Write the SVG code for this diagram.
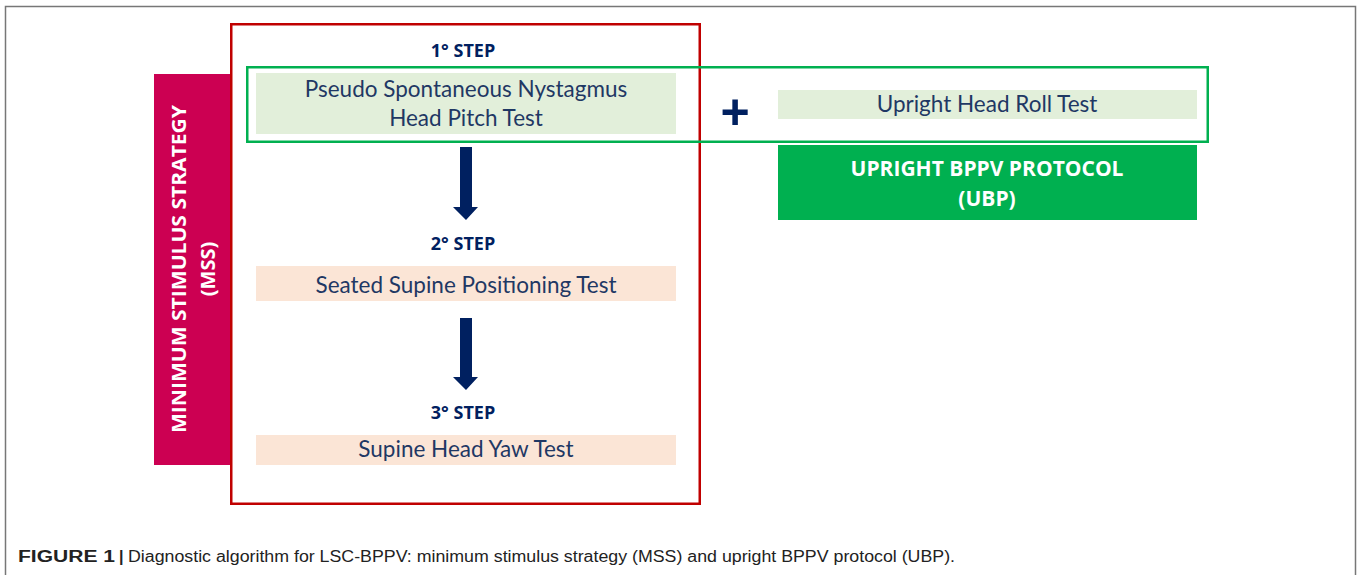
<svg xmlns="http://www.w3.org/2000/svg" width="1360" height="575" viewBox="0 0 1360 575">
<style>
.t{font-family:Lato,"Open Sans",sans-serif;fill:#1F3864;text-anchor:middle;dominant-baseline:central}
.b{font-family:"Open Sans",Lato,sans-serif;font-weight:bold;text-anchor:middle;dominant-baseline:central}
.green{fill:#E2EFDA}
.peach{fill:#FBE5D6}
.arrow{fill:#002060}
.cap{font-family:"Liberation Sans",Arial,sans-serif;font-size:16px;fill:#222}
</style>
<rect x="0" y="0" width="1360" height="575" fill="#fff"/>
<path d="M5.5 580 V6.5 H1355.5 V580" fill="none" stroke="#777" stroke-width="1.5"/>

<g id="mss">
<rect x="154" y="74" width="76" height="391" fill="#CC0052"/>
<text class="b" transform="translate(178,269) rotate(-90)" font-size="20" fill="#fff" textLength="328" lengthAdjust="spacingAndGlyphs">MINIMUM STIMULUS STRATEGY</text>
<text class="b" transform="translate(207,269) rotate(-90)" font-size="20" fill="#fff">(MSS)</text>
</g>

<g id="mss-frame">
<rect x="231.25" y="24.25" width="468.5" height="479.5" fill="none" stroke="#C00000" stroke-width="2.5"/>
</g>

<g id="step1-label"><text class="b" x="463" y="50" font-size="18" fill="#002060">1° STEP</text></g>

<g id="step1-frame">
<rect x="247.25" y="67.25" width="960.5" height="74.5" fill="none" stroke="#00B050" stroke-width="2.5"/>
</g>

<g id="step1">
<rect class="green" x="256" y="73" width="420" height="61"/>
<text class="t" x="466" y="88" font-size="22.5">Pseudo Spontaneous Nystagmus</text>
<text class="t" x="466" y="117" font-size="22.5">Head Pitch Test</text>
</g>

<g id="plus"><text x="735" y="112" font-family="'Liberation Sans',Arial,sans-serif" font-weight="bold" font-size="50" fill="#002060" text-anchor="middle" dominant-baseline="central">+</text></g>

<g id="roll">
<rect class="green" x="778" y="90" width="419" height="29"/>
<text class="t" x="987" y="103" font-size="22.5">Upright Head Roll Test</text>
</g>

<g id="ubp">
<rect x="778" y="145" width="419" height="75" fill="#00B050"/>
<text class="b" x="987" y="168" font-size="21" fill="#fff">UPRIGHT BPPV PROTOCOL</text>
<text class="b" x="987" y="198" font-size="21" fill="#fff">(UBP)</text>
</g>

<g id="connectors">
<path class="arrow" d="M460 147 H472 V207 H478 L466 220 L453 207 H460 Z"/>
<path class="arrow" d="M460 318 H472 V377 H478 L466 390 L453 377 H460 Z"/>
</g>

<g id="step2-label"><text class="b" x="463" y="243" font-size="18" fill="#002060">2° STEP</text></g>
<g id="step2">
<rect class="peach" x="256" y="266" width="420" height="35"/>
<text class="t" x="466" y="284" font-size="22.5">Seated Supine Positioning Test</text>
</g>

<g id="step3-label"><text class="b" x="463" y="412" font-size="18" fill="#002060">3° STEP</text></g>
<g id="step3">
<rect class="peach" x="256" y="435" width="420" height="30"/>
<text class="t" x="466" y="448" font-size="22.5">Supine Head Yaw Test</text>
</g>

<g id="caption">
<text class="cap" x="18" y="562" font-weight="bold" textLength="97" lengthAdjust="spacingAndGlyphs">FIGURE 1</text>
<text class="cap" x="119" y="562" font-weight="bold">|</text>
<text class="cap" x="128" y="562" textLength="827" lengthAdjust="spacingAndGlyphs">Diagnostic algorithm for LSC-BPPV: minimum stimulus strategy (MSS) and upright BPPV protocol (UBP).</text>
</g>
</svg>
